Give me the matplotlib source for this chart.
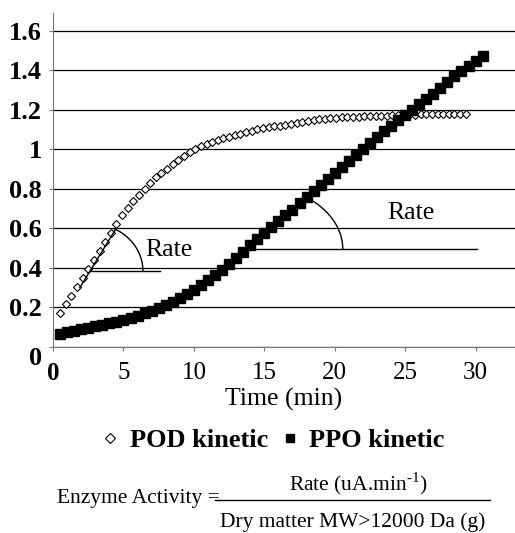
import numpy as np
import matplotlib
matplotlib.use("Agg")
import matplotlib.pyplot as plt
from matplotlib.lines import Line2D

plt.rcParams['font.family'] = ['Liberation Serif', 'DejaVu Serif']
plt.rcParams['mathtext.fontset'] = 'custom'
plt.rcParams['mathtext.rm'] = 'Liberation Serif'

# POD kinetic (open diamonds), time in min
pod_time = [0.5, 0.9, 1.3, 1.7, 2.1, 2.5, 2.9, 3.3, 3.7, 4.1, 4.5, 4.9, 5.3, 5.7,
            6.1, 6.5, 6.9, 7.3, 7.7, 8.1, 8.5, 8.9, 9.3, 9.7, 10.1, 10.5, 10.9,
            11.3, 11.7, 12.1, 12.5, 12.9, 13.3, 13.7, 14.1, 14.5, 14.9, 15.3,
            15.7, 16.1, 16.5, 16.9, 17.3, 17.7, 18.1, 18.5, 18.9, 19.3, 19.7,
            20.1, 20.5, 20.9, 21.3, 21.7, 22.1, 22.5, 22.9, 23.3, 23.7, 24.1,
            24.5, 24.9, 25.3, 25.7, 26.1, 26.5, 26.9, 27.3, 27.7, 28.1, 28.5,
            28.9, 29.3]
pod_abs = [0.17, 0.215, 0.26, 0.305, 0.35, 0.395, 0.44, 0.485, 0.53, 0.575, 0.62,
           0.665, 0.705, 0.74, 0.77, 0.80, 0.83, 0.86, 0.88, 0.90, 0.925, 0.945,
           0.965, 0.985, 1.0, 1.015, 1.025, 1.035, 1.045, 1.055, 1.063, 1.07,
           1.078, 1.085, 1.092, 1.10, 1.105, 1.11, 1.115, 1.12, 1.125, 1.13,
           1.135, 1.14, 1.145, 1.148, 1.152, 1.155, 1.158, 1.16, 1.162, 1.163,
           1.164, 1.165, 1.166, 1.167, 1.168, 1.169, 1.17, 1.171, 1.172, 1.173,
           1.174, 1.175, 1.176, 1.176, 1.177, 1.177, 1.178, 1.178, 1.179, 1.18,
           1.18]

# PPO kinetic (filled squares)
ppo_time = [0.5, 1.0, 1.5, 2.0, 2.5, 3.0, 3.5, 4.0, 4.5, 5.0, 5.5, 6.0, 6.5, 7.0,
            7.5, 8.0, 8.5, 9.0, 9.5, 10.0, 10.5, 11.0, 11.5, 12.0, 12.5, 13.0,
            13.5, 14.0, 14.5, 15.0, 15.5, 16.0, 16.5, 17.0, 17.5, 18.0, 18.5,
            19.0, 19.5, 20.0, 20.5, 21.0, 21.5, 22.0, 22.5, 23.0, 23.5, 24.0,
            24.5, 25.0, 25.5, 26.0, 26.5, 27.0, 27.5, 28.0, 28.5, 29.0, 29.5,
            30.0, 30.5]
ppo_abs = [0.068, 0.075, 0.082, 0.089, 0.096, 0.104, 0.112, 0.12, 0.128, 0.137,
           0.147, 0.158, 0.17, 0.183, 0.197, 0.212, 0.228, 0.246, 0.266, 0.29,
           0.315, 0.34, 0.365, 0.39, 0.42, 0.45, 0.48, 0.515, 0.545, 0.575,
           0.605, 0.635, 0.665, 0.695, 0.73, 0.76, 0.79, 0.82, 0.85, 0.88, 0.91,
           0.94, 0.97, 1.0, 1.03, 1.06, 1.09, 1.12, 1.15, 1.175, 1.2, 1.23,
           1.255, 1.28, 1.31, 1.34, 1.37, 1.395, 1.42, 1.445, 1.47]

yticks = [0, 0.2, 0.4, 0.6, 0.8, 1.0, 1.2, 1.4, 1.6]
ytick_labels = ['0', '0.2', '0.4', '0.6', '0.8', '1', '1.2', '1.4', '1.6']
xticks = [0, 5, 10, 15, 20, 25, 30]

# rate construction: tangent from (ts, ys) through corner (t0, y0) to (t1, y1),
# horizontal from corner to h_end, arc with radii a (min) and b (abs units)
pod_rate = dict(ts=1.9, ys=0.30, t0=2.62, y0=0.385, t1=4.4, y1=0.59,
                h_end=7.6, a=3.76, b=0.24, ang=62)
ppo_rate = dict(ts=13.97, ys=0.496, t0=13.97, y0=0.496, t1=18.1, y1=0.754,
                h_end=30.1, a=6.6, b=0.33, ang=51)

fig = plt.figure(figsize=(5.15, 5.33), dpi=100)
ax = fig.add_axes([0.103, 0.349, 0.897, 0.627])

pod_line, = ax.plot(pod_time, pod_abs, ls='none', marker='D', ms=4.2, mfc='white',
                    mec='black', mew=0.8, zorder=3)
ppo_line, = ax.plot(ppo_time, ppo_abs, ls='none', marker='s', ms=7, mfc='black',
                    mec='black', zorder=3)

for r in (pod_rate, ppo_rate):
    ax.plot([r['ts'], r['t1']], [r['ys'], r['y1']], color='black', lw=1, zorder=4)
    ax.plot([r['t0'], r['h_end']], [r['y0'], r['y0']], color='black', lw=1, zorder=4)
    th = np.radians(np.linspace(0, r['ang'], 50))
    ax.plot(r['t0'] + r['a'] * np.cos(th), r['y0'] + r['b'] * np.sin(th),
            color='black', lw=1, zorder=4)

ax.text(8.2, 0.49, 'Rate', fontsize=18.5, ha='center', va='center')
ax.text(25.4, 0.68, 'Rate', fontsize=18.5, ha='center', va='center')

ax.set_xlim(0, 32.8)
ax.set_ylim(0, 1.69)
ax.set_yticks(yticks)
ax.set_yticklabels(ytick_labels, fontsize=19, fontweight='bold')
ax.set_xticks(xticks)
ax.set_xticklabels([str(x) for x in xticks], fontsize=18)
ax.get_xticklabels()[0].set_fontweight('bold')
ax.get_yticklabels()[0].set_va('top')
ax.tick_params(axis='x', length=3, pad=8, color='#777777')
ax.tick_params(axis='y', length=3, pad=5, color='#777777')
ax.yaxis.grid(True, color='black', lw=0.9)
ax.set_axisbelow(True)
for s in ('top', 'right'):
    ax.spines[s].set_visible(False)
for s in ('left', 'bottom'):
    ax.spines[s].set_color('#777777')
ax.set_xlabel('Time (min)', fontsize=18.5, labelpad=2)

leg = fig.legend([pod_line, ppo_line], ['POD kinetic', 'PPO kinetic'], ncol=2,
                 loc='center', bbox_to_anchor=(0.53, 0.174), frameon=False,
                 prop={'size': 19, 'weight': 'bold'}, handlelength=0.7,
                 handletextpad=0.4, columnspacing=0.45)
for h in leg.legend_handles:
    h.set_markersize(5.5)

fig.text(0.111, 0.064, 'Enzyme Activity =', fontsize=15.5, ha='left', va='center')
fig.text(0.695, 0.092, 'Rate (uA.min$^{\u2010\\mathrm{1}}$)', fontsize=15.5,
         ha='center', va='center')
fig.text(0.684, 0.021, 'Dry matter MW>12000 Da (g)', fontsize=15.5,
         ha='center', va='center')
fig.add_artist(Line2D([0.418, 0.951], [0.062, 0.062], color='black', lw=1))

fig.savefig('out.png', dpi=100)
